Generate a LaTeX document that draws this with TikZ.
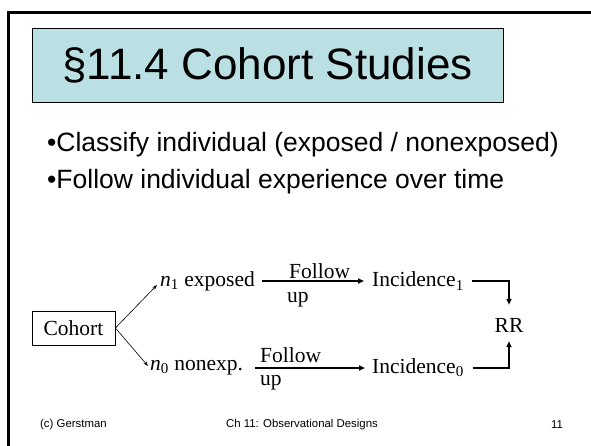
\documentclass[tikz,border=0pt]{standalone}
\usepackage{fontspec}
\setmainfont{Liberation Serif}
\newfontfamily\arial{Liberation Sans}
\usetikzlibrary{arrows.meta}
\definecolor{titlefill}{RGB}{187,224,227}
\tikzset{
  frameline/.style={line width=3pt},
  titlebox/.style={draw=black, line width=0.8pt, fill=titlefill},
  bullettext/.style={anchor=west, inner sep=0pt, font=\arial\fontsize{26.5}{28}\selectfont},
  dtext/.style={inner sep=0pt, font=\fontsize{21.5}{24}\selectfont},
  lbl/.style={anchor=west, inner sep=0pt, font=\fontsize{21.5}{24}\selectfont},
  cohortbox/.style={draw=black, line width=0.8pt, minimum width=83pt, minimum height=34pt, inner sep=0pt, font=\fontsize{21.5}{24}\selectfont},
  thinarrow/.style={line width=0.6pt, -{Stealth[length=5pt,width=3.5pt]}},
  flow/.style={line width=1.5pt, -{Triangle[length=6pt,width=5pt]}},
  foot/.style={inner sep=0pt, font=\arial\fontsize{11.4}{13}\selectfont},
}
\begin{document}
\begin{tikzpicture}[x=1pt,y=1pt]
\useasboundingbox (0,0) rectangle (591,-446);
\fill[white] (0,0) rectangle (591,-446);
% slide frame
\draw[frameline] (8,-446) -- (8,-12.5) -- (591,-12.5);
% title
\node[titlebox, minimum width=471pt, minimum height=74pt, inner sep=0pt] (title) at (267.5,-65)
  {\arial\fontsize{44}{44}\selectfont §11.4 Cohort Studies};
% bullets
\node[bullettext] (b1) at (47,-145) {•Classify individual (exposed / nonexposed)};
\node[bullettext] (b2) at (47,-182) {•Follow individual experience over time};
% diagram
\node[cohortbox] (cohort) at (73.5,-328) {Cohort};
\node[dtext, anchor=west] (n1) at (160,-281) {\textit{n}\textsubscript{1} exposed};
\node[dtext, anchor=west] (n0) at (150,-368) {\textit{n}\textsubscript{0} nonexp.};
\node[dtext, anchor=west] (inc1) at (372,-281) {Incidence\textsubscript{1}};
\node[dtext, anchor=west] (inc0) at (372,-368) {Incidence\textsubscript{0}};
\node[dtext] (rr) at (509,-325) {RR};
\node[lbl] (fol1) at (289,-271) {Follow};
\node[lbl] (up1) at (287,-300) {up};
\node[lbl] (fol0) at (260,-355) {Follow};
\node[lbl] (up0) at (260,-383) {up};
% connectors
\draw[thinarrow] (cohort.east) -- ([shift={(-3,-4)}]n1.west);
\draw[thinarrow] (cohort.east) -- ([shift={(-2,2)}]n0.west);
\draw[flow] ([xshift=7pt]n1.east) -- ([xshift=-8pt]inc1.west);
\draw[flow] ([xshift=12pt]n0.east) -- ([xshift=-7pt]inc0.west);
\draw[flow] ([xshift=8pt]inc1.east) -| ([yshift=13pt]rr.north);
\draw[flow] ([xshift=9pt]inc0.east) -| ([yshift=-9pt]rr.south);
% footer
\node[foot, anchor=west] (f1) at (40,-425) {(c) Gerstman};
\node[foot] (f2) at (302,-425) {Ch 11: Observational Designs};
\node[foot] (f3) at (557,-425) {11};
\end{tikzpicture}
\end{document}
